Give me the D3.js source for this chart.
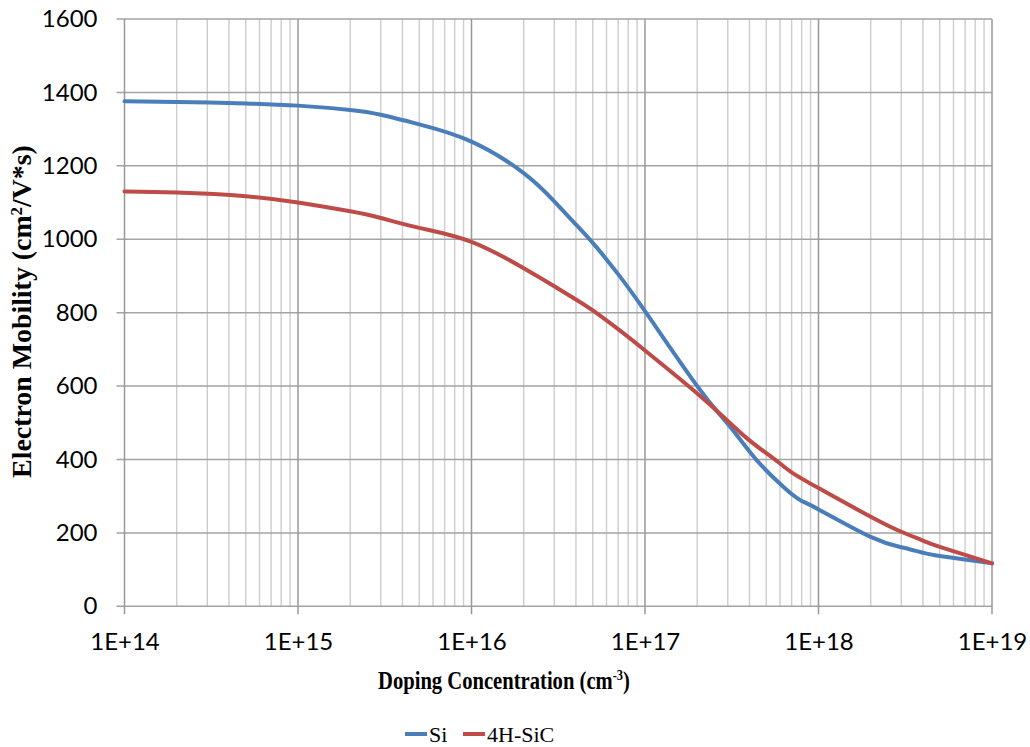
<!DOCTYPE html>
<html>
<head>
<meta charset="utf-8">
<script src="https://cdn.jsdelivr.net/npm/d3@7/dist/d3.min.js"></script>
<style>
  html, body { margin: 0; padding: 0; background: #fff; }
  svg { display: block; }
</style>
</head>
<body>
<svg id="chart" width="1030" height="747"></svg>
<script>
// Doping concentration (cm^-3) for each series
const siConcentration = [1e14, 2e14, 5e14, 1e15, 2e15, 3e15, 5e15, 1e16, 2e16, 3e16, 4e16, 5e16,
  6e16, 7e16, 1e17, 2e17, 3e17, 4e17, 5e17, 6e17, 7e17, 8e17, 1e18, 2e18, 3e18, 4e18, 5e18, 1e19];
// Electron mobility in Si (cm^2/V*s)
const siMobility = [1376, 1374, 1370, 1364, 1352, 1339, 1313, 1266, 1180, 1103, 1040, 990,
  945, 905, 804, 600, 497, 422, 370, 334, 306, 287, 264, 189, 161, 146, 137, 117];

const sicConcentration = [1e14, 2e14, 5e14, 1e15, 2e15, 3e15, 5e15, 1e16, 2e16, 3e16, 4e16, 5e16,
  7e16, 1e17, 2e17, 3e17, 4e17, 5e17, 6e17, 7e17, 1e18, 2e18, 3e18, 4e18, 5e18, 1e19];
// Electron mobility in 4H-SiC (cm^2/V*s)
const sicMobility = [1130, 1127, 1117, 1100, 1076, 1058, 1031, 993, 921, 872, 836, 806,
  755, 697, 580, 505, 452, 417, 389, 365, 322, 244, 203, 179, 162, 117];

const seriesNames = ["Si", "4H-SiC"];
const seriesColors = ["#4a7ebb", "#be4b48"];
const xTickValues = [1e14, 1e15, 1e16, 1e17, 1e18, 1e19];
const yTickValues = [0, 200, 400, 600, 800, 1000, 1200, 1400, 1600];

const svg = d3.select("#chart");
const plotL = 124.5, plotR = 992, plotT = 19, plotB = 606.3;

const x = d3.scaleLog().domain([1e14, 1e19]).range([plotL, plotR]);
const y = d3.scaleLinear().domain([0, 1600]).range([plotB, plotT]);

// minor vertical grid (2..9 within each decade)
const minor = [];
for (let e = 14; e < 19; e++) for (let m = 2; m <= 9; m++) minor.push(m * Math.pow(10, e));

const grid = svg.append("g");
grid.append("g").selectAll("line").data(minor).join("line")
  .attr("x1", d => x(d)).attr("x2", d => x(d))
  .attr("y1", plotT).attr("y2", plotB)
  .attr("stroke", "#cdcdcd").attr("stroke-width", 1.4);
grid.append("g").selectAll("line").data(yTickValues).join("line")
  .attr("x1", plotL - 8).attr("x2", plotR)
  .attr("y1", d => y(d)).attr("y2", d => y(d))
  .attr("stroke", "#a3a3a3").attr("stroke-width", 1.5);
grid.append("g").selectAll("line").data(xTickValues).join("line")
  .attr("x1", d => x(d)).attr("x2", d => x(d))
  .attr("y1", plotT).attr("y2", plotB + 8)
  .attr("stroke", "#999999").attr("stroke-width", 1.5);

const tickFont = "Lato, 'Open Sans', sans-serif";

// x tick labels
const xAxis = d3.axisBottom(x).tickValues(xTickValues)
  .tickFormat(d => "1E+" + Math.round(Math.log10(d))).tickSize(0);
svg.append("g").attr("transform", `translate(0,${plotB})`).call(xAxis)
  .call(g => g.select(".domain").remove())
  .selectAll("text")
  .attr("y", 43.5).attr("dy", null)
  .attr("font-family", tickFont).attr("font-size", 24).attr("fill", "#000");

// y tick labels
const yAxis = d3.axisLeft(y).tickValues(yTickValues).tickFormat(d3.format("d"))
  .tickSize(0).tickPadding(27);
svg.append("g").attr("transform", `translate(${plotL},0)`).call(yAxis)
  .call(g => g.select(".domain").remove())
  .selectAll("text")
  .attr("font-family", tickFont).attr("font-size", 24).attr("fill", "#000");

// series lines
const line = d3.line().x(d => x(d[0])).y(d => y(d[1])).curve(d3.curveNatural);
const series = [
  siConcentration.map((c, i) => [c, siMobility[i]]),
  sicConcentration.map((c, i) => [c, sicMobility[i]])
];
svg.append("g").selectAll("path").data(series).join("path")
  .attr("d", line)
  .attr("fill", "none")
  .attr("stroke", (d, i) => seriesColors[i])
  .attr("stroke-width", 4)
  .attr("stroke-linecap", "round")
  .attr("stroke-linejoin", "round");

const titleFont = "'Liberation Serif', 'Times New Roman', serif";

// x axis title, condensed to its slot under the plot
const xtG = svg.append("g");
const xt = xtG.append("text")
  .attr("x", 0).attr("y", 0)
  .attr("font-family", titleFont)
  .attr("font-weight", "bold").attr("font-size", 25);
xt.append("tspan").text("Doping Concentration (cm");
xt.append("tspan").attr("dy", -9).attr("font-size", 15).text("-3");
xt.append("tspan").attr("dy", 9).text(")");
const xtw = xt.node().getBBox().width;
xtG.attr("transform", `translate(378,689) scale(${252 / xtw},1)`);

// y axis title, sized to span its slot beside the plot
const yt = svg.append("text")
  .attr("transform", "translate(31,311.5) rotate(-90)")
  .attr("text-anchor", "middle")
  .attr("font-family", titleFont)
  .attr("font-weight", "bold").attr("font-size", 25);
yt.append("tspan").text("Electron Mobility (cm");
const ySup = yt.append("tspan").attr("dy", -9).attr("font-size", 15).text("2");
yt.append("tspan").attr("dy", 9).text("/V*s)");
const ytLen = yt.node().getBBox().width;
const ytSize = 25 * 333 / ytLen;
yt.attr("font-size", ytSize);
ySup.attr("font-size", ytSize * 0.6);

// legend
const legendX = [405, 463];
const legend = svg.append("g").selectAll("g").data(seriesNames).join("g")
  .attr("transform", (d, i) => `translate(${legendX[i]},734)`);
legend.append("line").attr("x1", 0).attr("x2", 22).attr("y1", 0).attr("y2", 0)
  .attr("stroke", (d, i) => seriesColors[i]).attr("stroke-width", 4);
legend.append("text").attr("x", 24).attr("y", 8)
  .attr("font-family", titleFont)
  .attr("font-size", 22).text(d => d);
</script>
</body>
</html>
